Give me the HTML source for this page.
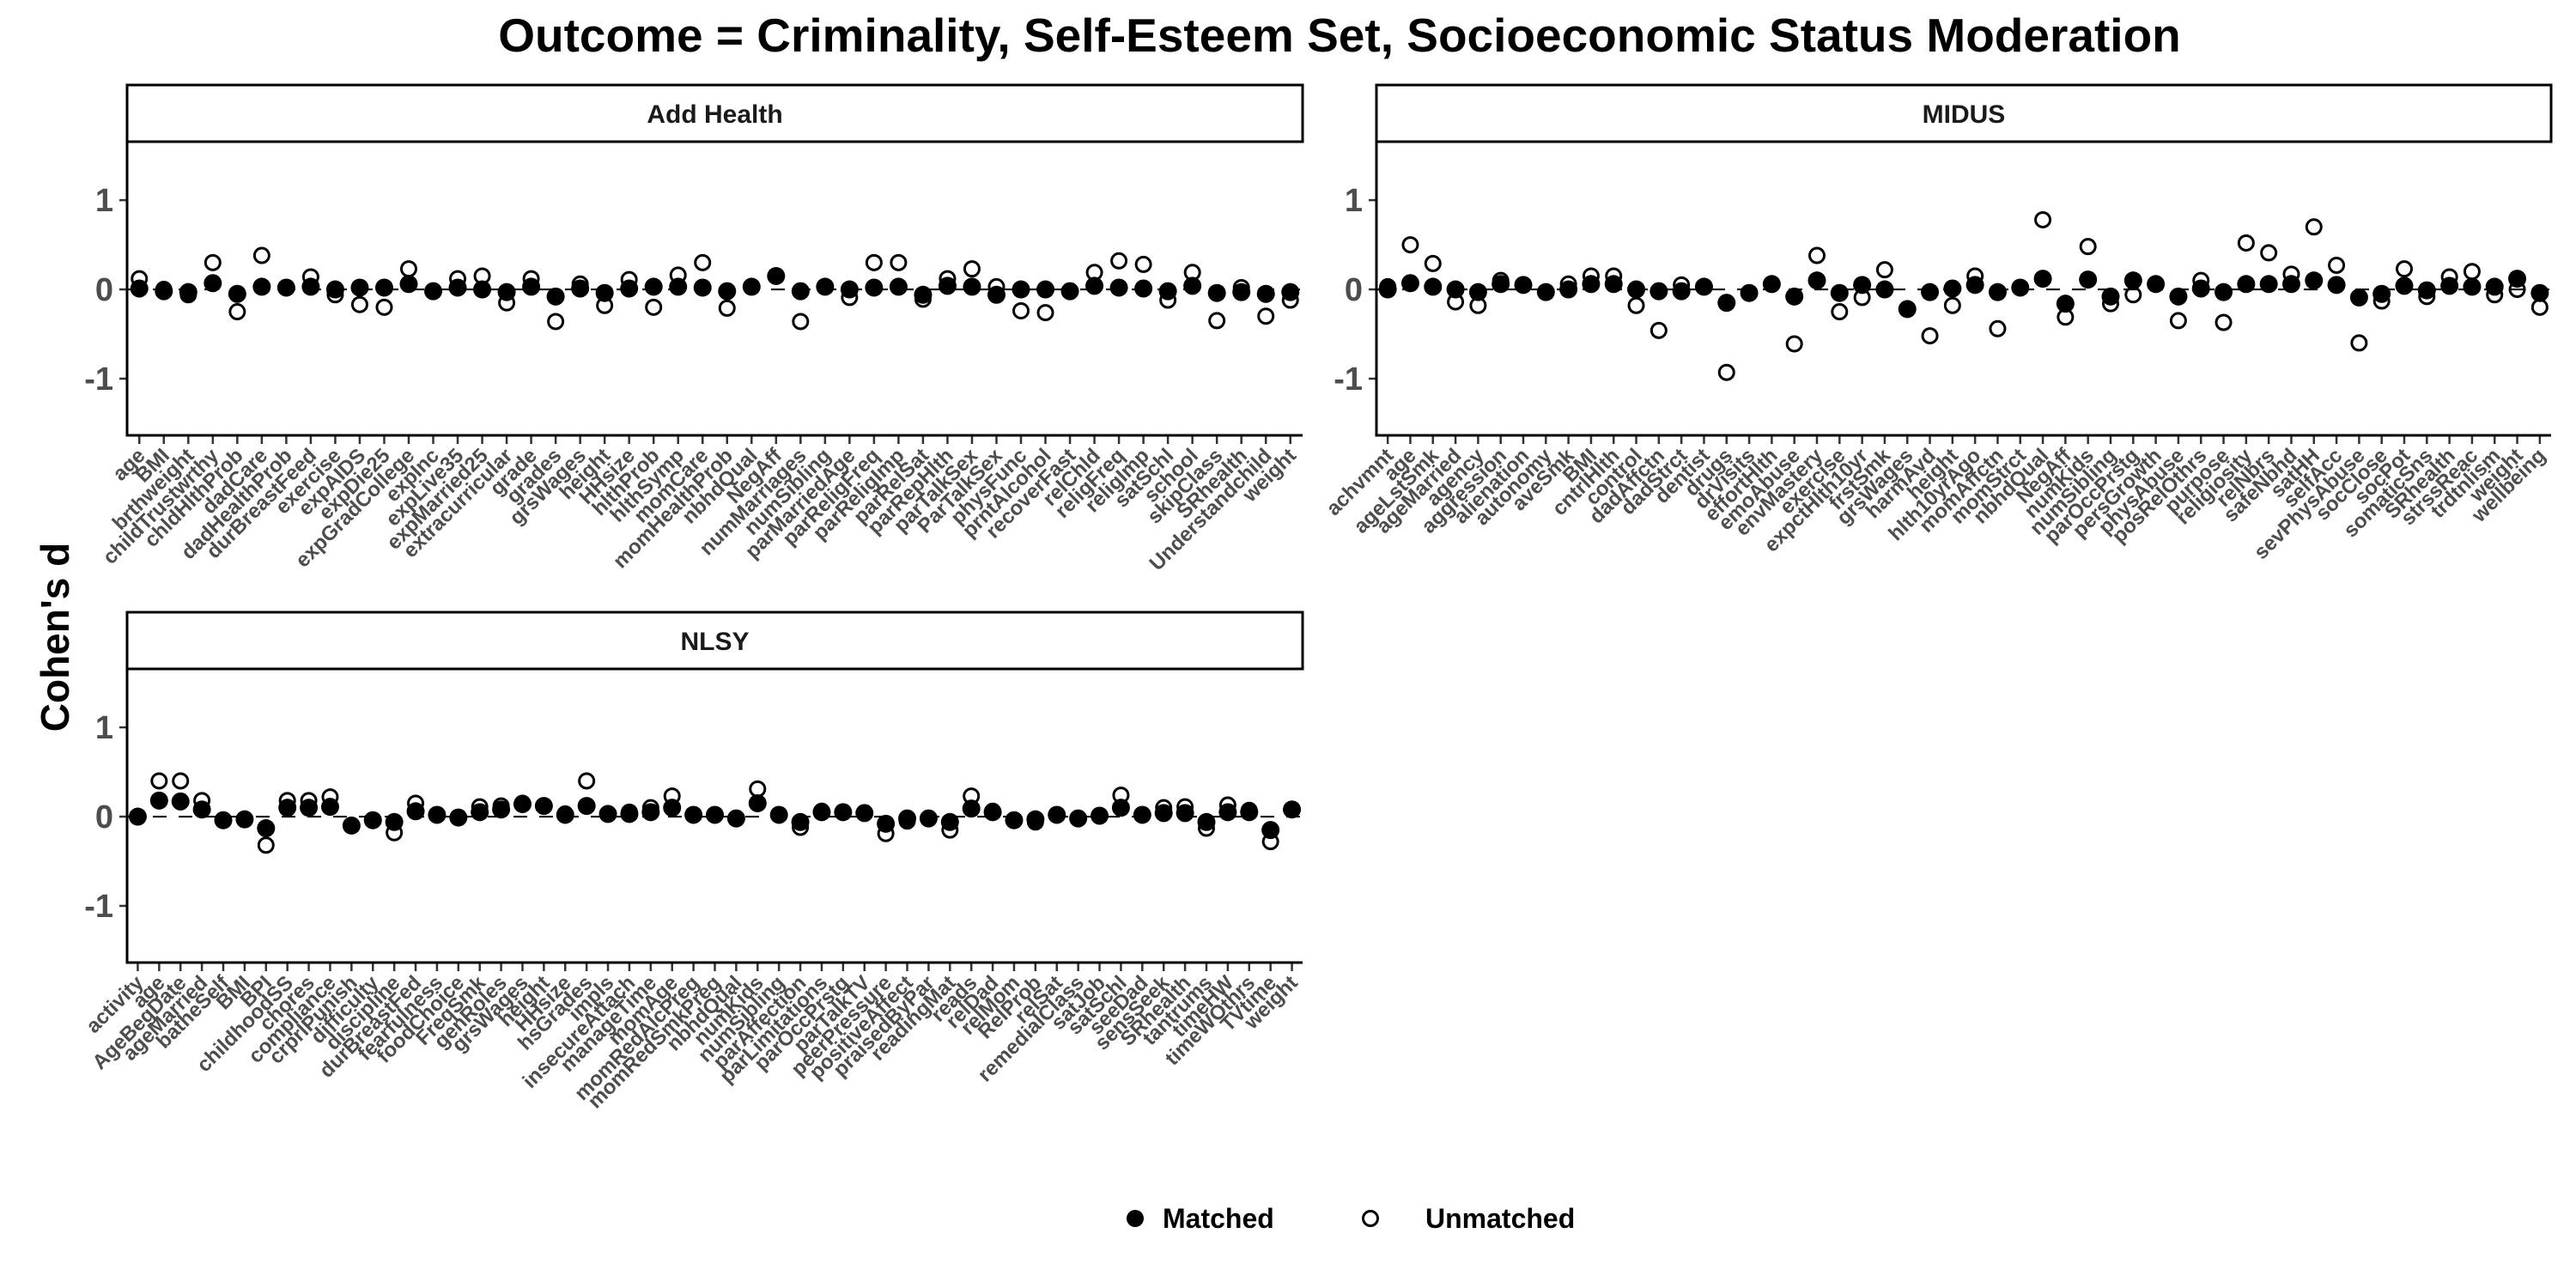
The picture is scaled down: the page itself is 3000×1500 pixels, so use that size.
<!DOCTYPE html>
<html><head><meta charset="utf-8">
<style>
html,body{margin:0;padding:0;background:#fff;}
svg{display:block;font-family:"Liberation Sans",Arial,sans-serif;}
</style></head>
<body>
<svg id="chart" width="3000" height="1500" viewBox="0 0 3000 1500" xmlns="http://www.w3.org/2000/svg">
<rect width="3000" height="1500" fill="#fff"/>
<text x="1560" y="60" text-anchor="middle" font-size="55" font-weight="bold" fill="#000">Outcome = Criminality, Self-Esteem Set, Socioeconomic Status Moderation</text>
<text transform="translate(80,742) rotate(-90)" text-anchor="middle" font-size="46" font-weight="bold" fill="#000">Cohen's d</text>
<g id="panels"></g>
<g>
<circle cx="1322" cy="1419" r="10" fill="#000"/>
<text x="1354" y="1430" font-size="32" font-weight="bold" fill="#000">Matched</text>
<circle cx="1596" cy="1419" r="8.5" fill="#fff" stroke="#000" stroke-width="3"/>
<text x="1660" y="1430" font-size="32" font-weight="bold" fill="#000">Unmatched</text>
</g>
</svg>
<script>
const addHealthVars = ["age","BMI","brthweight","childTrustwrthy","chldHlthProb","dadCare","dadHealthProb","durBreastFeed","exercise","expAIDS","expDie25","expGradCollege","expInc","expLive35","expMarried25","extracurricular","grade","grades","grsWages","height","HHsize","hlthProb","hlthSymp","momCare","momHealthProb","nbhdQual","NegAff","numMarriages","numSibling","parMarriedAge","parReligFreq","parReligImp","parRelSat","parRepHlth","parTalkSex","ParTalkSex","physFunc","prntAlcohol","recoverFast","relChld","religFreq","religImp","satSchl","school","skipClass","SRhealth","Understandchild","weight"];
const addHealthMatched = [0.01,-0.02,-0.03,0.07,-0.05,0.03,0.02,0.03,0,0.02,0.02,0.06,-0.02,0.02,0,-0.03,0.03,-0.08,0.01,-0.04,0.01,0.03,0.03,0.02,-0.02,0.03,0.15,-0.02,0.03,0,0.02,0.03,-0.06,0.04,0.03,-0.06,0,0,-0.02,0.04,0.02,0.01,-0.02,0.04,-0.04,-0.03,-0.05,-0.03];
const addHealthUnmatched = [0.12,0.0,-0.06,0.30,-0.25,0.38,0.02,0.14,-0.06,-0.17,-0.20,0.23,-0.02,0.12,0.15,-0.15,0.12,-0.36,0.06,-0.18,0.11,-0.20,0.16,0.30,-0.21,0.03,0.15,-0.36,0.03,-0.09,0.30,0.30,-0.11,0.12,0.23,0.03,-0.24,-0.26,-0.02,0.19,0.32,0.28,-0.12,0.19,-0.35,0.02,-0.30,-0.12];

const midusVars = ["achvmnt","age","ageLstSmk","ageMarried","agency","aggression","alienation","autonomy","aveSmk","BMI","cntrlHlth","control","dadAffctn","dadStrct","dentist","drugs","drVisits","effortHlth","emoAbuse","envMastery","exercise","expctHlth10yr","frstSmk","grsWages","harmAvd","height","hlth10yrAgo","momAffctn","momStrct","nbhdQual","NegAff","numKids","numSibling","parOccPrstg","persGrowth","physAbuse","posRelOthrs","purpose","religiosity","relNbrs","safeNbhd","satHH","selfAcc","sevPhysAbuse","socClose","socPot","somaticSns","SRhealth","strssReac","trdtnlism","weight","wellbeing"];
const midusMatched = [0,0.07,0.03,0,-0.03,0.06,0.05,-0.03,0,0.06,0.06,0,-0.02,-0.02,0.03,-0.15,-0.04,0.06,-0.08,0.10,-0.04,0.05,0,-0.22,-0.03,0.01,0.05,-0.03,0.02,0.12,-0.16,0.11,-0.08,0.10,0.06,-0.08,0.01,-0.03,0.06,0.06,0.06,0.10,0.05,-0.09,-0.05,0.04,-0.01,0.04,0.03,0.03,0.12,-0.04];
const midusUnmatched = [0.03,0.50,0.29,-0.14,-0.18,0.10,0.05,-0.03,0.06,0.15,0.15,-0.18,-0.46,0.05,0.03,-0.93,-0.04,0.06,-0.61,0.38,-0.25,-0.09,0.22,-0.22,-0.52,-0.18,0.15,-0.44,0.02,0.78,-0.31,0.48,-0.16,-0.06,0.06,-0.35,0.10,-0.37,0.52,0.41,0.17,0.70,0.27,-0.60,-0.13,0.23,-0.08,0.14,0.20,-0.06,0.0,-0.20];

const nlsyVars = ["activity","age","AgeBegDate","ageMarried","batheSelf","BMI","BPI","childhoodSS","chores","compliance","crprlPunish","difficulty","discipline","durBreastFed","fearfulness","foodChoice","FreqSmk","genRoles","grsWages","height","HHsize","hsGrades","impls","insecureAttach","manageTime","momAge","momRedAlcPreg","momRedSmkPreg","nbhdQual","numKids","numSibling","parAffection","parLimitations","parOccPrstg","parTalkTV","peerPressure","positiveAffect","praisedByPar","readingMat","reads","relDad","relMom","RelProb","relSat","remedialClass","satJob","satSchl","seeDad","sensSeek","SRhealth","tantrums","timeHW","timeWOthrs","TVtime","weight"];
const nlsyMatched = [0,0.18,0.17,0.08,-0.04,-0.03,-0.13,0.10,0.10,0.11,-0.10,-0.04,-0.06,0.06,0.02,-0.01,0.05,0.08,0.14,0.12,0.02,0.12,0.03,0.03,0.05,0.10,0.02,0.02,-0.02,0.15,0.02,-0.06,0.05,0.05,0.04,-0.08,-0.02,-0.02,-0.06,0.09,0.05,-0.04,-0.03,0.02,-0.02,0.01,0.10,0.02,0.04,0.04,-0.06,0.05,0.05,-0.15,0.08];
const nlsyUnmatched = [0,0.40,0.40,0.18,-0.04,-0.03,-0.32,0.18,0.18,0.22,-0.10,-0.04,-0.18,0.15,0.02,-0.01,0.11,0.12,0.15,0.12,0.03,0.40,0.03,0.05,0.10,0.23,0.02,0.02,-0.02,0.31,0.02,-0.12,0.06,0.05,0.04,-0.19,-0.05,-0.02,-0.15,0.23,0.06,-0.04,-0.06,0.02,-0.02,0.01,0.24,0.02,0.10,0.11,-0.13,0.13,0.07,-0.28,0.08];

const yTicks = [1, 0, -1];
const yTickLabels = ["1", "0", "-1"];
const panelTitles = ["Add Health", "MIDUS", "NLSY"];

const NS = "http://www.w3.org/2000/svg";
const YMIN = -1.635, YMAX = 1.655;
function mk(tag, attrs, parent){
  const e = document.createElementNS(NS, tag);
  for (const k in attrs) e.setAttribute(k, attrs[k]);
  parent.appendChild(e);
  return e;
}
function drawPanel(idx, vars, matched, unmatched, px, py, pw, ph, slug){
  const root = document.getElementById('panels');
  const g = mk('g', {}, root);
  
  
  const x = i => px + (i + 0.5) * pw / vars.length;
  const y = v => py + (YMAX - v) / (YMAX - YMIN) * ph;
  const strip = mk('rect', {x: px, y: py - 66, width: pw, height: 66, fill: '#fff', stroke: '#000', 'stroke-width': 3}, g);
  
  
  const st = mk('text', {x: px + pw / 2, y: py - 22, 'text-anchor': 'middle', 'font-size': 30, 'font-weight': 'bold', fill: '#1a1a1a'}, g);
  st.textContent = panelTitles[idx];
  
  
  const zl = mk('line', {x1: px, x2: px + pw, y1: y(0), y2: y(0), stroke: '#000', 'stroke-width': 2.2, 'stroke-dasharray': '16,14'}, g);
  
  
  yTicks.forEach((t, k) => {
    const tl = mk('line', {x1: px - 9, x2: px, y1: y(t), y2: y(t), stroke: '#333', 'stroke-width': 2.5}, g);
    
    
    const tx = mk('text', {x: px - 16, y: y(t) + 13, 'text-anchor': 'end', 'font-size': 38, 'font-weight': 'bold', fill: '#4d4d4d'}, g);
    tx.textContent = yTickLabels[k];
    
    
  });
  vars.forEach((v, i) => {
    const tl = mk('line', {x1: x(i), x2: x(i), y1: py + ph, y2: py + ph + 10, stroke: '#333', 'stroke-width': 2.5}, g);
    
    
    const tx = mk('text', {transform: 'translate(' + (x(i) + 8) + ',' + (py + ph + 25) + ') rotate(-45)', 'text-anchor': 'end', 'font-size': 24, 'font-weight': 'bold', fill: '#4d4d4d'}, g);
    tx.textContent = v;
    
    
  });
  unmatched.forEach((v, i) => {
    const c = mk('circle', {cx: x(i), cy: y(v), r: 8.5, fill: 'none', stroke: '#000', 'stroke-width': 3}, g);
    
    
  });
  matched.forEach((v, i) => {
    const c = mk('circle', {cx: x(i), cy: y(v), r: 10.5, fill: '#000'}, g);
    
    
  });
  const ax = mk('line', {x1: px, x2: px, y1: py, y2: py + ph + 1.5, stroke: '#000', 'stroke-width': 3}, g);
  
  
  const bx = mk('line', {x1: px - 1.5, x2: px + pw, y1: py + ph, y2: py + ph, stroke: '#000', 'stroke-width': 3}, g);
  
  
}
drawPanel(0, addHealthVars, addHealthMatched, addHealthUnmatched, 148, 165, 1369, 342, 'add-health');
drawPanel(1, midusVars, midusMatched, midusUnmatched, 1603, 165, 1368, 342, 'midus');
drawPanel(2, nlsyVars, nlsyMatched, nlsyUnmatched, 148, 779, 1369, 342, 'nlsy');
</script>
</body></html>
